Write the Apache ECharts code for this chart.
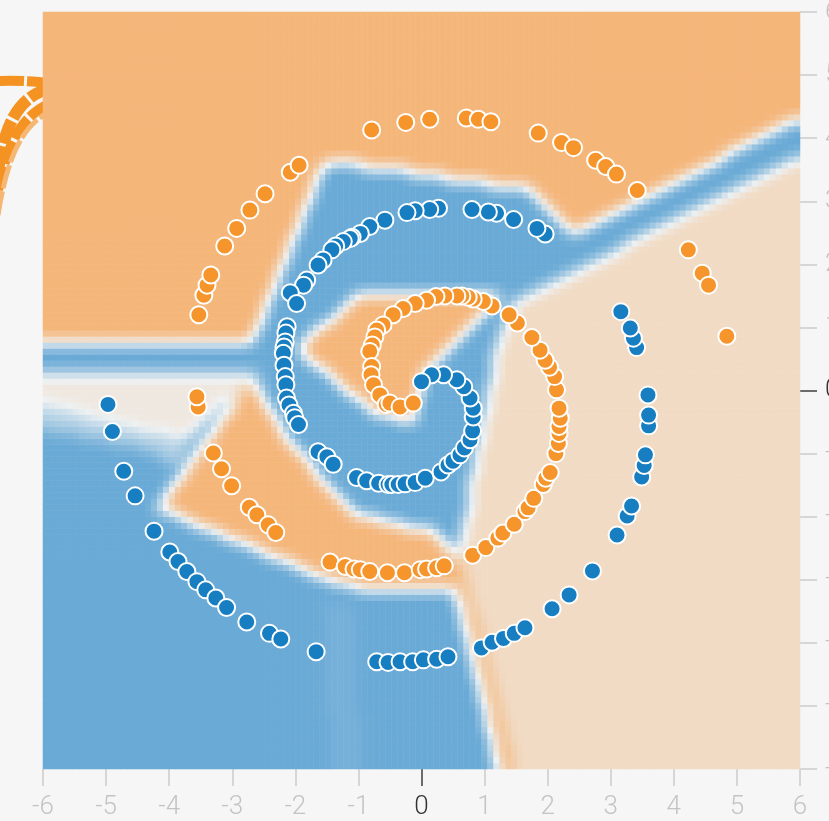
<!DOCTYPE html>
<html>
<head>
<meta charset="utf-8">
<script src="https://cdn.jsdelivr.net/npm/echarts@6/dist/echarts.min.js"></script>
<style>
  html, body { margin: 0; padding: 0; background: #f6f6f6; }
  #chart { width: 829px; height: 821px; }
</style>
</head>
<body>
<div id="chart"></div>
<script>
// ---- axis range ----
const axisMin = -6;
const axisMax = 6;

// ---- samples of the two spiral classes: [x1, x2] ----
const orangePoints = [
  [-3.54,-0.26],[-3.56,-0.10],[-3.53,1.20],[-3.45,1.51],[-3.40,1.67],[-3.34,1.83],[-3.12,2.29],[-2.93,2.57],
  [-2.72,2.86],[-2.48,3.12],[-2.08,3.46],[-1.94,3.57],[-0.79,4.13],[-0.25,4.25],[0.13,4.30],[0.71,4.32],
  [0.90,4.30],[1.10,4.26],[1.85,4.08],[2.22,3.93],[2.41,3.85],[2.76,3.65],[2.92,3.55],[3.09,3.43],
  [3.42,3.17],[4.23,2.23],[4.45,1.86],[4.55,1.67],[4.84,0.86],
  [-3.30,-0.99],[-3.17,-1.24],[-3.01,-1.51],[-2.73,-1.85],[-2.61,-1.97],[-2.43,-2.13],[-2.31,-2.25],
  [-1.45,-2.72],[-1.21,-2.79],[-1.07,-2.83],[-0.97,-2.84],[-0.82,-2.87],[-0.54,-2.89],[-0.27,-2.89],[-0.02,-2.84],
  [0.08,-2.83],[0.24,-2.81],[0.36,-2.78],[0.81,-2.61],[1.02,-2.49],[1.21,-2.34],[1.29,-2.26],[1.47,-2.12],
  [1.64,-1.92],[1.69,-1.86],[1.78,-1.71],[1.93,-1.49],[1.97,-1.39],[2.04,-1.30],[2.13,-1.00],[2.17,-0.84],
  [2.18,-0.68],[2.18,-0.57],[2.20,-0.44],[2.18,-0.28],[2.14,0.01],[2.11,0.22],[2.03,0.37],[1.96,0.48],
  [1.88,0.64],[1.75,0.84],[1.52,1.07],[1.39,1.20],[1.12,1.34],[0.98,1.41],[0.82,1.45],[0.74,1.48],
  [0.64,1.50],[0.56,1.50],[0.37,1.50],[0.23,1.49],[0.08,1.43],[-0.10,1.38],[-0.29,1.30],[-0.45,1.20],
  [-0.61,1.04],[-0.71,0.96],[-0.74,0.85],[-0.78,0.72],[-0.82,0.62],[-0.79,0.38],[-0.80,0.25],[-0.76,0.09],
  [-0.66,-0.07],[-0.56,-0.22],[-0.50,-0.20],[-0.34,-0.26],[-0.13,-0.20]
];

const bluePoints = [
  [-4.97,-0.22],[-4.90,-0.65],[-4.72,-1.28],[-4.54,-1.67],[-4.24,-2.23],[-3.99,-2.56],[-3.86,-2.71],[-3.72,-2.87],
  [-3.56,-3.03],[-3.42,-3.16],[-3.26,-3.29],[-3.09,-3.44],[-2.77,-3.67],[-2.41,-3.85],[-2.23,-3.94],[-1.67,-4.14],
  [-0.71,-4.30],[-0.53,-4.31],[-0.34,-4.30],[-0.14,-4.30],[0.03,-4.27],[0.24,-4.26],[0.42,-4.22],[0.95,-4.08],
  [1.12,-3.99],[1.30,-3.93],[1.47,-3.85],[1.64,-3.76],[2.07,-3.46],[2.34,-3.24],[2.71,-2.86],[3.10,-2.29],
  [3.26,-1.99],[3.33,-1.83],[3.49,-1.37],[3.53,-1.19],[3.55,-1.02],[3.60,-0.56],[3.60,-0.39],[3.59,-0.07],
  [3.41,0.68],[3.36,0.83],[3.31,0.99],[3.16,1.25],
  [1.96,2.48],[1.83,2.57],[1.46,2.71],[1.19,2.81],[1.06,2.83],[0.80,2.87],[0.27,2.89],[0.13,2.87],
  [-0.10,2.85],[-0.23,2.82],[-0.58,2.70],[-0.82,2.60],[-0.97,2.49],[-1.10,2.43],[-1.13,2.41],[-1.24,2.36],
  [-1.36,2.29],[-1.42,2.23],[-1.56,2.07],[-1.64,1.99],[-1.82,1.75],[-1.87,1.67],[-2.08,1.55],[-1.98,1.38],
  [-2.13,1.01],[-2.15,0.91],[-2.16,0.77],[-2.18,0.69],[-2.19,0.59],[-2.18,0.40],[-2.16,0.22],[-2.15,0.09],
  [-2.14,-0.12],[-2.10,-0.23],[-2.03,-0.36],[-2.01,-0.43],[-1.95,-0.54],[-1.64,-0.97],[-1.50,-1.05],[-1.40,-1.17],
  [-1.03,-1.38],[-0.87,-1.43],[-0.68,-1.47],[-0.53,-1.49],[-0.47,-1.49],[-0.37,-1.49],[-0.26,-1.48],[-0.10,-1.46],
  [0.06,-1.39],[0.31,-1.29],[0.42,-1.18],[0.50,-1.12],[0.61,-1.02],[0.68,-0.91],[0.77,-0.78],[0.81,-0.64],
  [0.82,-0.42],[0.82,-0.28],[0.77,-0.12],[0.67,0.06],[0.56,0.17],[0.35,0.25],[0.16,0.25],[0.00,0.14]
];

// ---- decision regions of the classifier output (polygons in x1/x2 units) ----
// output value: -1 = orange class, +1 = blue class
const outputBackground = -0.38;
const regionOrangeTop    = [[-6.2,6.2],[6.2,6.2],[6.2,4.21],[1.96,2.04],[-1.45,0.75],[-6.2,0.75]];
const regionBlueLower    = [[-6.2,0.31],[-1.93,0.31],[0.77,-1.74],[0.53,-2.69],[1.25,-6.2],[-6.2,-6.2]];
const regionBlueMiddle   = [[-1.53,3.65],[-0.10,3.46],[1.75,3.18],[2.48,2.45],[1.48,1.40],[1.21,0.75],
                            [1.09,0.09],[0.93,-0.79],[0.77,-1.50],[0.61,-2.21],[0.48,-2.52],[0.18,-2.24],
                            [-1.09,-1.89],[-2.21,-0.66],[-2.53,0.09],[-2.67,0.80]];
const regionBlueBand     = [[1.96,2.23],[6.2,4.44],[6.2,3.84],[1.48,1.40]];
const regionBlueStripe   = [[-6.2,0.74],[-2.48,0.74],[-2.48,0.32],[-6.2,0.32]];
const regionOrangeInner  = [[-0.93,1.55],[1.32,1.53],[0.02,0.23],[-0.15,-0.47],[-0.74,-0.34],[-1.97,0.67]];
const regionOrangeBand   = [[-2.67,0.21],[-2.21,-0.66],[-1.09,-1.95],[0.18,-2.24],[0.48,-2.55],[0.64,-2.81],
                            [0.55,-3.16],[0.13,-3.19],[-1.29,-3.08],[-2.72,-2.45],[-4.18,-1.86]];
const regionHaze         = [[-6.2,0.32],[-2.48,0.32],[-2.67,0.17],[-3.67,-0.78],[-4.78,-0.55],[-6.2,-0.15]];
const regionHazeFade     = [[-6.2,-0.15],[-4.78,-0.55],[-3.67,-0.78],[-3.83,-1.26],[-4.30,-0.94],[-6.2,-0.55]];
const regionPaleStreak   = [[-1.58,-3.32],[-1.10,-3.32],[-0.94,-6.2],[-1.42,-6.2]];
const regionOrangeLine   = [[0.44,-2.69],[0.63,-2.69],[1.53,-6.2],[1.31,-6.2]];

const regionLayers = [
  { poly: regionOrangeTop, value: -1 },
  { poly: regionBlueLower, value: 1 },
  { poly: regionPaleStreak, value: 0.9 },
  { poly: regionBlueMiddle, value: 1 },
  { poly: regionBlueBand, value: 1 },
  { poly: regionBlueStripe, value: 1 },
  { poly: regionOrangeInner, value: -1 },
  { poly: regionOrangeBand, value: -1 },
  { poly: regionHaze, value: -0.15 },
  { poly: regionHazeFade, value: 0.45 },
  { poly: regionOrangeLine, value: -1 }
];

// ---- raster of the output field ----
const CELLS = 126;

function inside(poly, x, y) {
  let c = false;
  for (let i = 0, j = poly.length - 1; i < poly.length; j = i++) {
    const xi = poly[i][0], yi = poly[i][1], xj = poly[j][0], yj = poly[j][1];
    if (((yi > y) !== (yj > y)) && (x < (xj - xi) * (y - yi) / (yj - yi) + xi)) c = !c;
  }
  return c;
}

function buildField() {
  const step = (axisMax - axisMin) / CELLS;
  let f = [];
  for (let j = 0; j < CELLS; j++) {
    const row = [];
    const y = axisMin + (j + 0.5) * step;
    for (let i = 0; i < CELLS; i++) {
      const x = axisMin + (i + 0.5) * step;
      let v = outputBackground;
      for (const layer of regionLayers) if (inside(layer.poly, x, y)) v = layer.value;
      row.push(v);
    }
    f.push(row);
  }
  // soften the region edges (box filter, two passes)
  const clamp = (k) => Math.max(0, Math.min(CELLS - 1, k));
  for (let pass = 0; pass < 2; pass++) {
    const h = f.map((row) => row.map((_, i) => (row[clamp(i - 1)] + row[i] + row[clamp(i + 1)]) / 3));
    f = h.map((row, j) => row.map((_, i) => (h[clamp(j - 1)][i] + h[j][i] + h[clamp(j + 1)][i]) / 3));
  }
  return f;
}

const field = buildField();
const heatData = [];
for (let j = 0; j < CELLS; j++) for (let i = 0; i < CELLS; i++) heatData.push([i, j, field[j][i]]);
const cellCategories = Array.from({ length: CELLS }, (_, k) => String(k));

const chart = echarts.init(document.getElementById('chart'), null, { renderer: 'canvas' });

const gridRect = { left: 43, top: 12, width: 757, height: 757, containLabel: false, outerBoundsMode: 'none' };
const labelFont = { fontFamily: 'Roboto', fontWeight: 300, fontSize: 26 };
const labelColor = (v) => (Number(v) === 0 ? '#333333' : '#c4c4c4');

chart.setOption({
  backgroundColor: '#f6f6f6',
  animation: false,
  grid: [
    Object.assign({}, gridRect),
    Object.assign({}, gridRect),
    Object.assign({}, gridRect)
  ],
  graphic: [
    // network links entering from the left edge
    { type: 'bezierCurve', z: 0, shape: { x1: -2, y1: 81, cpx1: 20, cpy1: 80, cpx2: 40, cpy2: 82, x2: 60, y2: 84 },
      style: { stroke: '#f59322', lineWidth: 10, lineDash: [26, 3], fill: null } },
    { type: 'bezierCurve', z: 0, shape: { x1: -2, y1: 170, cpx1: 6, cpy1: 120, cpx2: 20, cpy2: 92, x2: 60, y2: 86 },
      style: { stroke: '#f59322', lineWidth: 12, lineDash: [24, 3], fill: null } },
    { type: 'bezierCurve', z: 0, shape: { x1: -2, y1: 190, cpx1: 8, cpy1: 140, cpx2: 24, cpy2: 110, x2: 60, y2: 100 },
      style: { stroke: '#f59322', lineWidth: 10, lineDash: [24, 3], fill: null } },
    { type: 'bezierCurve', z: 0, shape: { x1: -2, y1: 215, cpx1: 8, cpy1: 152, cpx2: 25, cpy2: 118, x2: 60, y2: 108 },
      style: { stroke: '#f6b674', lineWidth: 5, lineDash: [24, 3], fill: null } }
  ],
  visualMap: {
    type: 'continuous', show: false, seriesIndex: 0, dimension: 2,
    min: -1, max: 1,
    inRange: { color: ['#f5b67a', '#eef1f2', '#6aaad6'] }
  },
  xAxis: [
    { gridIndex: 0, type: 'category', data: cellCategories, position: 'top', show: false },
    { gridIndex: 1, type: 'value', min: axisMin, max: axisMax, interval: 1, position: 'bottom',
      axisLine: { show: false, onZero: false }, splitLine: { show: false },
      axisTick: { show: true, length: 17, lineStyle: { color: '#d6d6d6', width: 2 } },
      axisLabel: Object.assign({ margin: 25, color: labelColor }, labelFont) },
    { gridIndex: 2, type: 'value', min: axisMin, max: axisMax, position: 'bottom',
      axisLine: { show: false, onZero: false }, splitLine: { show: false }, axisLabel: { show: false },
      axisTick: { show: true, length: 17, customValues: [0], lineStyle: { color: '#6b6b6b', width: 2 } } }
  ],
  yAxis: [
    { gridIndex: 0, type: 'category', data: cellCategories, position: 'left', show: false },
    { gridIndex: 1, type: 'value', min: axisMin, max: axisMax, interval: 1, position: 'right',
      axisLine: { show: false, onZero: false }, splitLine: { show: false },
      axisTick: { show: true, length: 17, lineStyle: { color: '#d6d6d6', width: 2 } },
      axisLabel: Object.assign({ margin: 25, color: labelColor }, labelFont) },
    { gridIndex: 2, type: 'value', min: axisMin, max: axisMax, position: 'right',
      axisLine: { show: false, onZero: false }, splitLine: { show: false }, axisLabel: { show: false },
      axisTick: { show: true, length: 17, customValues: [0], lineStyle: { color: '#6b6b6b', width: 2 } } }
  ],
  series: [
    {
      type: 'heatmap', xAxisIndex: 0, yAxisIndex: 0, data: heatData,
      progressive: 0, emphasis: { disabled: true }, silent: true, z: 1
    },
    {
      type: 'scatter', xAxisIndex: 1, yAxisIndex: 1, data: orangePoints, z: 3,
      symbolSize: 17, itemStyle: { color: '#f5952b', borderColor: '#ffffff', borderWidth: 2, opacity: 1 }
    },
    {
      type: 'scatter', xAxisIndex: 1, yAxisIndex: 1, data: bluePoints, z: 3,
      symbolSize: 17, itemStyle: { color: '#177ec2', borderColor: '#ffffff', borderWidth: 2, opacity: 1 }
    }
  ]
});
</script>
</body>
</html>
